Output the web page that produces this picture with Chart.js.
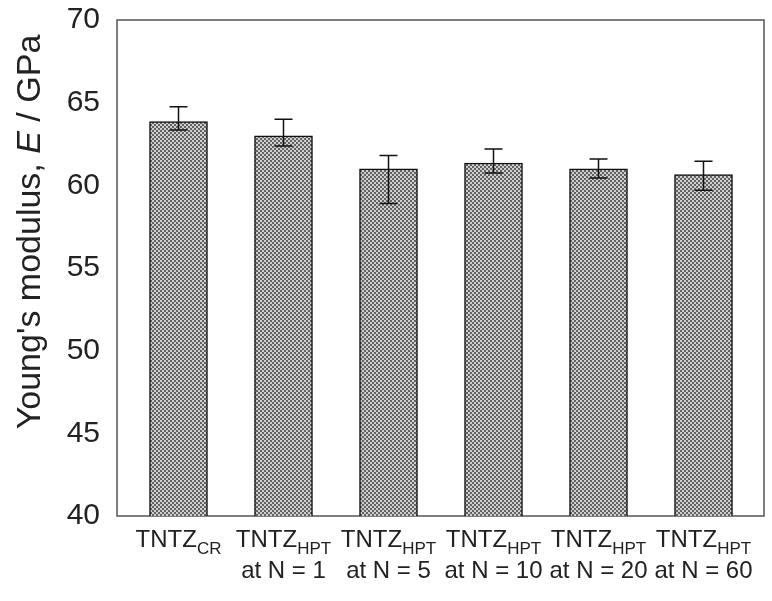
<!DOCTYPE html>
<html>
<head>
<meta charset="utf-8">
<script src="https://cdn.jsdelivr.net/npm/chart.js@4/dist/chart.umd.min.js"></script>
<style>
  html, body { margin: 0; padding: 0; background: #fff; }
  #wrap { width: 772px; height: 601px; }
</style>
</head>
<body>
<div id="wrap"><canvas id="modulusChart" width="772" height="601"></canvas></div>
<script>
// data
const labelMain = ['TNTZ', 'TNTZ', 'TNTZ', 'TNTZ', 'TNTZ', 'TNTZ'];
const labelSub = ['CR', 'HPT', 'HPT', 'HPT', 'HPT', 'HPT'];
const labelLine2 = ['', 'at N = 1', 'at N = 5', 'at N = 10', 'at N = 20', 'at N = 60'];
const modulus = [63.85, 63.0, 61.0, 61.35, 61.0, 60.65];
const errPlus = [0.9, 1.0, 0.8, 0.85, 0.6, 0.8];
const errMinus = [0.5, 0.62, 2.1, 0.6, 0.55, 0.95];
const yTicks = [40, 45, 50, 55, 60, 65, 70];

const FONT = '"Liberation Sans", Arial, sans-serif';
const TEXT = '#222';

// crosshatch fill like the original bars
function makePattern() {
  const c = document.createElement('canvas');
  c.width = 4; c.height = 4;
  const g = c.getContext('2d');
  g.fillStyle = '#626262';
  g.fillRect(0, 0, 4, 4);
  g.fillStyle = '#cfcfcf';
  g.fillRect(0, 0, 2, 2);
  g.fillRect(2, 2, 2, 2);
  return g.createPattern(c, 'repeat');
}

const framePlugin = {
  id: 'frame',
  beforeDatasetsDraw(chart) {
    const { ctx, chartArea: a } = chart;
    ctx.save();
    ctx.strokeStyle = '#555';
    ctx.lineWidth = 1.5;
    ctx.strokeRect(a.left - 9, a.top, a.right - a.left + 17, a.bottom - a.top);
    ctx.restore();
  }
};

const errorBarPlugin = {
  id: 'errorBars',
  afterDatasetsDraw(chart) {
    const { ctx } = chart;
    const xs = chart.scales.x, ys = chart.scales.y;
    ctx.save();
    ctx.strokeStyle = '#111';
    ctx.lineWidth = 1.5;
    modulus.forEach((v, i) => {
      const x = xs.getPixelForValue(i);
      const yt = ys.getPixelForValue(v + errPlus[i]);
      const yb = ys.getPixelForValue(v - errMinus[i]);
      ctx.beginPath();
      ctx.moveTo(x, yt); ctx.lineTo(x, yb);
      ctx.moveTo(x - 9, yt); ctx.lineTo(x + 9, yt);
      ctx.moveTo(x - 9, yb); ctx.lineTo(x + 9, yb);
      ctx.stroke();
    });
    ctx.restore();
  }
};

// category labels with subscripts and the y title with italic E
const textPlugin = {
  id: 'labels',
  afterDraw(chart) {
    const { ctx, chartArea: a } = chart;
    const xs = chart.scales.x;
    const mainFont = '24px ' + FONT, subFont = '17px ' + FONT;
    ctx.save();
    ctx.fillStyle = TEXT;
    ctx.textBaseline = 'alphabetic';
    ctx.textAlign = 'left';
    labelMain.forEach((m, i) => {
      const cx = xs.getPixelForValue(i);
      ctx.font = mainFont;
      const wm = ctx.measureText(m).width;
      ctx.font = subFont;
      const ws = ctx.measureText(labelSub[i]).width;
      let x0 = cx - (wm + ws) / 2;
      const base = a.bottom + 31;
      ctx.font = mainFont;
      ctx.fillText(m, x0, base);
      ctx.font = subFont;
      ctx.fillText(labelSub[i], x0 + wm, base + 7);
      if (labelLine2[i]) {
        ctx.font = mainFont;
        ctx.textAlign = 'center';
        ctx.fillText(labelLine2[i], cx, base + 31);
        ctx.textAlign = 'left';
      }
    });

    const parts = [
      ["Young's modulus, ", '34px ' + FONT],
      ['E', 'italic 34px ' + FONT],
      [' / GPa', '34px ' + FONT]
    ];
    let total = 0;
    parts.forEach(p => { ctx.font = p[1]; total += ctx.measureText(p[0]).width; });
    ctx.translate(40, 232);
    ctx.rotate(-Math.PI / 2);
    let x = -total / 2;
    parts.forEach(p => {
      ctx.font = p[1];
      ctx.fillText(p[0], x, 0);
      x += ctx.measureText(p[0]).width;
    });
    ctx.restore();
  }
};

const ctx = document.getElementById('modulusChart').getContext('2d');
new Chart(ctx, {
  type: 'bar',
  data: {
    labels: labelMain.map((m, i) => m + labelSub[i] + ' ' + labelLine2[i]),
    datasets: [{
      data: modulus,
      backgroundColor: makePattern(),
      borderColor: '#111',
      borderWidth: 1.5,
      borderSkipped: false,
      barThickness: 58
    }]
  },
  options: {
    responsive: false,
    animation: false,
    layout: { padding: { top: 20, right: 16, left: 0, bottom: 0 } },
    plugins: { legend: { display: false }, tooltip: { enabled: false } },
    scales: {
      x: {
        grid: { display: false },
        border: { display: false },
        ticks: { display: false },
        afterFit(scale) {
          scale.height = 85;
          scale.paddingLeft = 0; scale.paddingRight = 0;
        }
      },
      y: {
        min: 40,
        max: 70,
        grid: { display: false, drawTicks: false },
        border: { display: false },
        afterBuildTicks(scale) { scale.ticks = yTicks.map(v => ({ value: v })); },
        afterFit(scale) {
          scale.width = 126;
          scale.paddingTop = 0; scale.paddingBottom = 0;
        },
        ticks: {
          padding: 26,
          color: TEXT,
          font: { family: FONT, size: 30 }
        }
      }
    }
  },
  plugins: [framePlugin, errorBarPlugin, textPlugin]
});
</script>
</body>
</html>
